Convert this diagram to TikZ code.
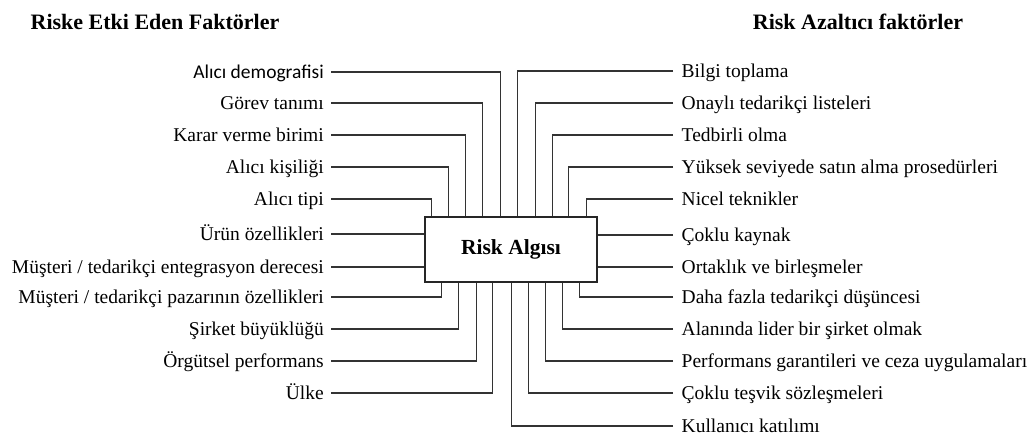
\documentclass[tikz,border=0pt]{standalone}
\usepackage{fontspec}
\setmainfont{Liberation Serif}[Ligatures=TeX]
\newfontfamily\serifmain{Liberation Serif}
\newfontfamily\sansalt{Carlito}
\begin{document}
\begin{tikzpicture}[x=1pt,y=-1pt,
  wire/.style={draw=black!80,line width=1.1pt},
  lbl/.style={font=\serifmain\fontsize{19.5pt}{22pt}\selectfont,inner ysep=0pt,text height=13pt,text depth=0pt},
  lleft/.style={lbl,anchor=east,inner xsep=7pt},
  lright/.style={lbl,anchor=west,inner xsep=8.5pt},
  heading/.style={font=\serifmain\fontsize{22pt}{26pt}\selectfont\bfseries,inner sep=0pt,anchor=base},
  core/.style={draw=black!85,line width=1.3pt,minimum width=172pt,minimum height=65pt,inner sep=0pt,
    font=\serifmain\fontsize{21.5pt}{25pt}\selectfont\bfseries}]
\useasboundingbox (0,0) rectangle (1035,438);

% headings
\node[heading] (hl) at (155,30) {Riske Etki Eden Faktörler};
\node[heading] (hr) at (858,30) {Risk Azaltıcı faktörler};

% central box
\node[core] (box) at (511,249.5) {\raisebox{-2pt}{Risk Algısı}};

% factors that affect risk
\node[lleft] (l1) at (331,72) {\sansalt Alıcı demografisi};
\node[lleft] (l2) at (331,103) {Görev tanımı};
\node[lleft] (l3) at (331,135) {Karar verme birimi};
\node[lleft] (l4) at (331,167) {Alıcı kişiliği};
\node[lleft] (l5) at (331,199) {Alıcı tipi};
\node[lleft] (l6) at (331,234) {Ürün özellikleri};
\node[lleft] (l7) at (331,267) {Müşteri / tedarikçi entegrasyon derecesi};
\node[lleft] (l8) at (331,297) {Müşteri / tedarikçi pazarının özellikleri};
\node[lleft] (l9) at (331,329) {Şirket büyüklüğü};
\node[lleft] (l10) at (331,361) {Örgütsel performans};
\node[lleft] (l11) at (331,393) {Ülke};

% risk reducing factors
\node[lright] (r1) at (673,71) {Bilgi toplama};
\node[lright] (r2) at (673,103) {Onaylı tedarikçi listeleri};
\node[lright] (r3) at (673,135) {Tedbirli olma};
\node[lright] (r4) at (673,167) {Yüksek seviyede satın alma prosedürleri};
\node[lright] (r5) at (673,199) {Nicel teknikler};
\node[lright] (r6) at (673,235) {Çoklu kaynak};
\node[lright] (r7) at (673,267) {Ortaklık ve birleşmeler};
\node[lright] (r8) at (673,297) {Daha fazla tedarikçi düşüncesi};
\node[lright] (r9) at (673,329) {Alanında lider bir şirket olmak};
\node[lright] (r10) at (673,361) {Performans garantileri ve ceza uygulamaları};
\node[lright] (r11) at (673,393) {Çoklu teşvik sözleşmeleri};
\node[lright] (r12) at (673,426) {Kullanıcı katılımı};

% left connectors
\draw[wire] (l1.east) -| ([xshift=76pt]box.north west);
\draw[wire] (l2.east) -| ([xshift=58pt]box.north west);
\draw[wire] (l3.east) -| ([xshift=41pt]box.north west);
\draw[wire] (l4.east) -| ([xshift=24pt]box.north west);
\draw[wire] (l5.east) -| ([xshift=7pt]box.north west);
\draw[wire] (l6.east) -- (l6.east -| box.west);
\draw[wire] (l7.east) -- (l7.east -| box.west);
\draw[wire] (l8.east) -| ([xshift=17pt]box.south west);
\draw[wire] (l9.east) -| ([xshift=34pt]box.south west);
\draw[wire] (l10.east) -| ([xshift=52pt]box.south west);
\draw[wire] (l11.east) -| ([xshift=68pt]box.south west);

% right connectors
\draw[wire] (r1.west) -| ([xshift=93pt]box.north west);
\draw[wire] (r2.west) -| ([xshift=111pt]box.north west);
\draw[wire] (r3.west) -| ([xshift=128pt]box.north west);
\draw[wire] (r4.west) -| ([xshift=144pt]box.north west);
\draw[wire] (r5.west) -| ([xshift=162pt]box.north west);
\draw[wire] (r6.west) -- (r6.west -| box.east);
\draw[wire] (r7.west) -- (r7.west -| box.east);
\draw[wire] (r8.west) -| ([xshift=155pt]box.south west);
\draw[wire] (r9.west) -| ([xshift=138pt]box.south west);
\draw[wire] (r10.west) -| ([xshift=121pt]box.south west);
\draw[wire] (r11.west) -| ([xshift=104pt]box.south west);
\draw[wire] (r12.west) -| ([xshift=87pt]box.south west);
\end{tikzpicture}
\end{document}
